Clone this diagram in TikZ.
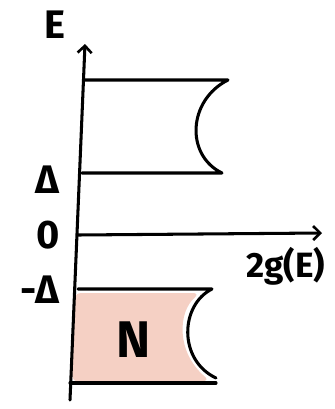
\documentclass[tikz,border=0pt]{standalone}
\usepackage{fontspec}
\setmainfont{Fira Sans}
\usepackage{tikz}
\usetikzlibrary{arrows.meta,positioning}
\definecolor{BandFill}{RGB}{245,208,196}
\tikzset{
  bandline/.style={line width=2.6pt, line cap=round, line join=round},
  axisline/.style={line width=2.6pt, line cap=round, -{Straight Barb[length=6pt,width=12pt,line width=2.2pt]}},
  axislabel/.style={font=\fontsize{34}{36}\selectfont\bfseries, inner sep=0pt},
}

\begin{document}
\begin{tikzpicture}[x=0.03cm, y=-0.03cm]
    \useasboundingbox (0,0) rectangle (335,409);
    % filled lower band
    \fill[BandFill, rounded corners=6pt] (74,293) -- (200,293) .. controls (178,312) and (176,352) .. (210,381) -- (72,382) -- cycle;
    % axes
    \coordinate (yaxisbot) at (70,400);
    \coordinate (yaxistop) at (85,44);
    \coordinate (xaxisleft) at (78,235);
    \coordinate (xaxisright) at (322,233);
    \draw[axisline] (yaxisbot) -- (yaxistop);
    \draw[axisline] (xaxisleft) -- (xaxisright);
    % upper band
    \draw[bandline] (85,80) -- (228,80) .. controls (188,100) and (185,155) .. (222,173) -- (82,173);
    % lower band
    \draw[bandline] (78,289) -- (212,289) .. controls (180,305) and (178,360) .. (216,378);
    \draw[bandline] (70,383) -- (216,383);
    % labels
    \node[axislabel] (elabel) at (55,25) {E};
    \node[axislabel, font=\fontsize{30}{32}\selectfont\bfseries] (glabel) at (286,266) {2g(E)};
    \foreach \y/\txt/\nm in {180/{Δ}/delta, 235/{0}/zero, 290/{-Δ}/mdelta} {
      \node[axislabel, anchor=east] (\nm) at (60,\y) {\txt};
    }
    \node[axislabel, font=\fontsize{44}{46}\selectfont\bfseries] (nlabel) at (134,340) {N};
  \end{tikzpicture}
\end{document}
